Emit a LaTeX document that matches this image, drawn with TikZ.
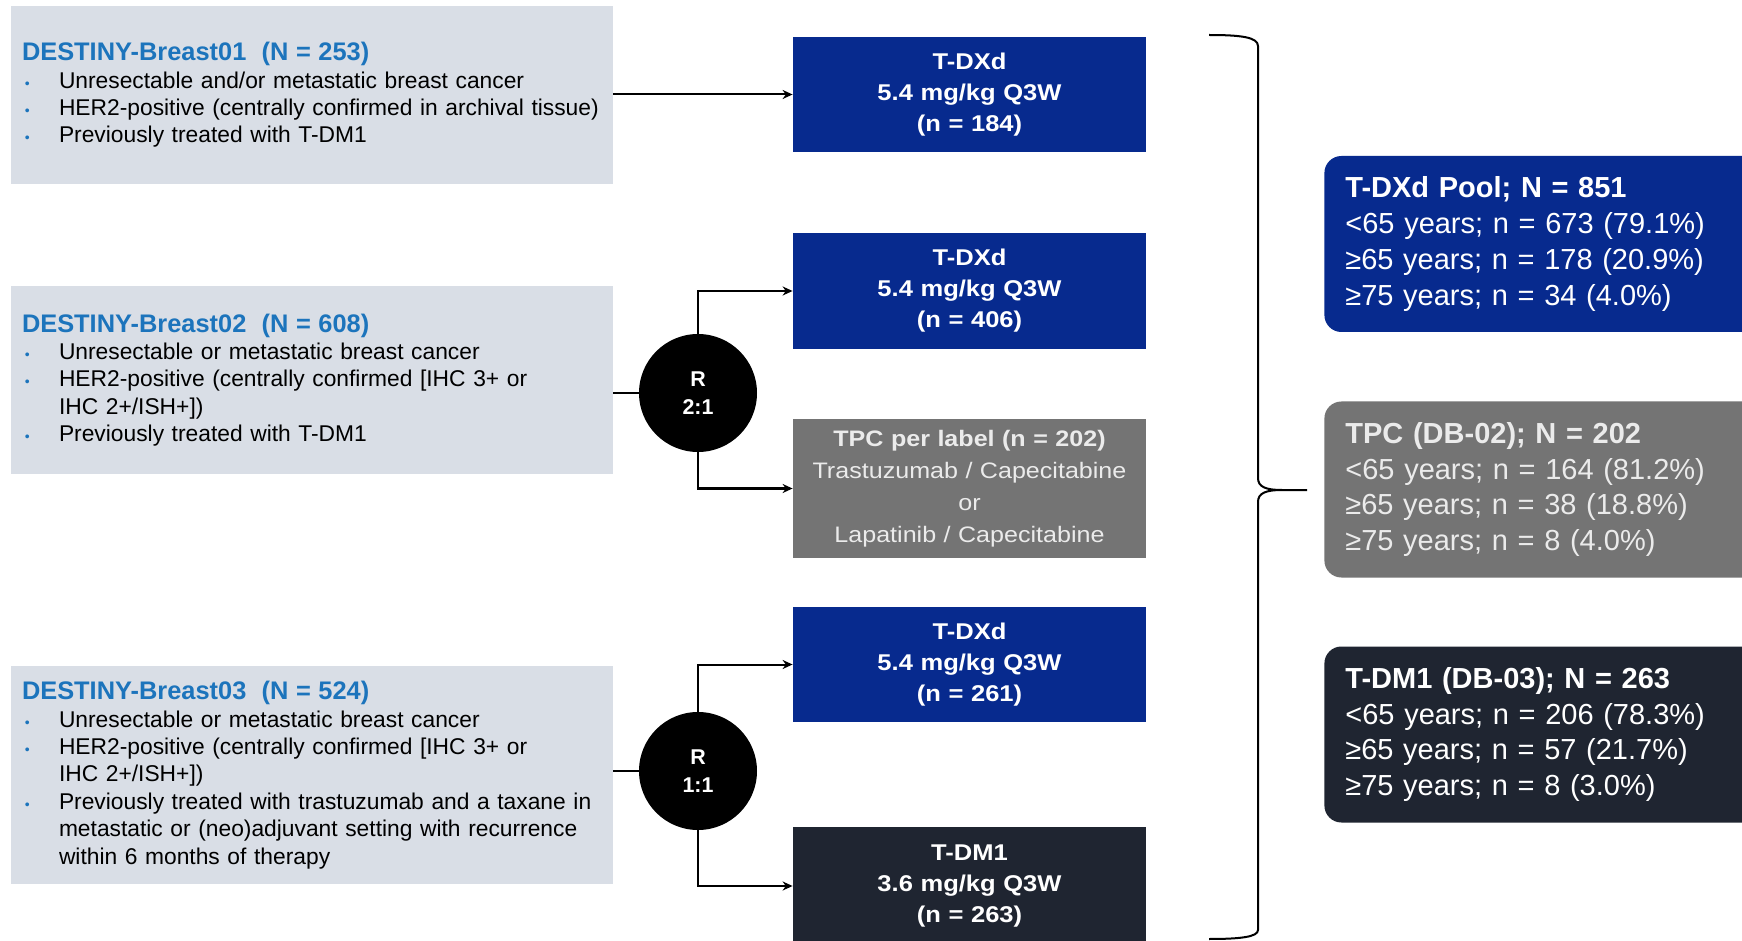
\documentclass[tikz,border=0pt]{standalone}
\usepackage{fontspec}
\setmainfont{Liberation Sans}
\newfontfamily\widesans[FakeStretch=1.12]{Liberation Sans}
\usepackage{xcolor}
\usetikzlibrary{arrows.meta,positioning,calc}

\definecolor{dsblue}{HTML}{072A8E}
\definecolor{dsgrey}{HTML}{747474}
\definecolor{dsdark}{HTML}{1F2531}
\definecolor{dslight}{HTML}{D9DEE6}
\definecolor{dstitle}{HTML}{1C74BC}

\newcommand{\crit}[1]{\hangindent=18.5pt\hangafter=1\noindent
  \makebox[18.5pt][l]{\hspace{1.5pt}\textcolor{dstitle}{\scriptsize\textbullet}}#1\par}
\newcommand{\nl}{\hfil\break}
\newcommand{\studyname}[1]{{\fontsize{12.7}{15}\selectfont\bfseries\color{dstitle}#1\par}}

\begin{document}
\begin{tikzpicture}[x=0.5pt,y=-0.5pt,
  studybox/.style={fill=dslight,minimum width=301pt,minimum height=89pt,
    text width=290pt,inner xsep=5.5pt,align=left,
    font=\fontsize{11.4}{13.7}\selectfont},
  armbox/.style={fill=#1,text=white,minimum width=176.5pt,text width=170pt,
    align=center,inner sep=0pt,font=\widesans\bfseries\fontsize{11.4}{15.5}\selectfont},
  poolbox/.style={fill=#1,text=white,rounded corners=8.5pt,anchor=west,
    minimum width=240pt,minimum height=88pt,text width=219pt,inner xsep=10.5pt,
    align=left,font=\fontsize{14.5}{17.9}\selectfont},
  randnode/.style={circle,fill=black,text=white,minimum size=59pt,inner sep=0pt,
    align=center,font=\bfseries\fontsize{10.7}{14}\selectfont},
  flow/.style={line width=1pt,-{Stealth[length=5pt,width=4.5pt]}},
  link/.style={line width=1pt}]
  \fill[white] (0,0) rectangle (1742,941);
  \useasboundingbox (0,0) rectangle (1742,941);

  % studies
  \node[studybox] (db1) at (312,95) {\studyname{DESTINY-Breast01\ \ (N = 253)}%
    \crit{Unresectable and/or metastatic breast cancer}%
    \crit{HER2-positive (centrally confirmed in archival tissue)}%
    \crit{Previously treated with T-DM1}};
  \node[studybox,minimum height=94pt] (db2) at (312,380) {\studyname{DESTINY-Breast02\ \ (N = 608)}%
    \crit{Unresectable or metastatic breast cancer}%
    \crit{HER2-positive (centrally confirmed [IHC 3+ or\nl IHC 2+/ISH+])}%
    \crit{Previously treated with T-DM1}};
  \node[studybox,minimum height=109pt] (db3) at (312,775) {\studyname{DESTINY-Breast03\ \ (N = 524)}%
    \crit{Unresectable or metastatic breast cancer}%
    \crit{HER2-positive (centrally confirmed [IHC 3+ or\nl IHC 2+/ISH+])}%
    \crit{Previously treated with trastuzumab and a taxane in\nl metastatic or (neo)adjuvant setting with recurrence\nl within 6 months of therapy}};

  % randomisation
  \node[randnode] (rand1) at (698,393) {R\\2:1};
  \node[randnode] (rand2) at (698,771) {R\\1:1};

  % treatment arms
  \node[armbox=dsblue,minimum height=57.5pt] (arm1) at (969.5,94.5)
    {T-DXd\\5.4 mg/kg Q3W\\(n = 184)};
  \node[armbox=dsblue,minimum height=58pt] (arm2) at (969.5,291)
    {T-DXd\\5.4 mg/kg Q3W\\(n = 406)};
  \node[armbox=dsgrey,minimum height=69.5pt,text=white!92!black,
    font=\widesans\fontsize{11.2}{16}\selectfont] (tpc) at (969.5,488.5)
    {\textbf{TPC per label (n = 202)}\\Trastuzumab / Capecitabine\\or\\Lapatinib / Capecitabine};
  \node[armbox=dsblue,minimum height=57.5pt] (arm3) at (969.5,664.5)
    {T-DXd\\5.4 mg/kg Q3W\\(n = 261)};
  \node[armbox=dsdark,minimum height=59pt] (arm4) at (969.5,886)
    {T-DM1\\3.6 mg/kg Q3W\\(n = 263)};

  \draw[flow] (db1.east |- arm1.west) -- (arm1.west);
  \draw[link] (db2.east |- rand1.west) -- (rand1.west);
  \draw[flow] (rand1.north) |- (arm2.west);
  \draw[flow] (rand1.south) |- (tpc.west);
  \draw[link] (db3.east |- rand2.west) -- (rand2.west);
  \draw[flow] (rand2.north) |- (arm3.west);
  \draw[flow] (rand2.south) |- (arm4.west);

  % brace
  \draw[line width=1pt] (1209,35) .. controls (1240,35) and (1258,37) .. (1258,46)
    -- (1258,478) .. controls (1258,487) and (1266,490) .. (1282,490) -- (1307,490)
    (1282,490) .. controls (1266,490) and (1258,493) .. (1258,502)
    -- (1258,930) .. controls (1258,937) and (1240,939) .. (1209,939);

  % pooled groups
  \node[poolbox=dsblue] (pool) at (1324,244) {\textbf{T-DXd Pool; N = 851}\\
    <65 years; n = 673 (79.1\%)\\≥65 years; n = 178 (20.9\%)\\≥75 years; n = 34 (4.0\%)};
  \node[poolbox=dsgrey,text=white!92!black] (tpcpool) at (1324,489.5) {\textbf{TPC (DB-02); N = 202}\\
    <65 years; n = 164 (81.2\%)\\≥65 years; n = 38 (18.8\%)\\≥75 years; n = 8 (4.0\%)};
  \node[poolbox=dsdark] (dmpool) at (1324,734.5) {\textbf{T-DM1 (DB-03); N = 263}\\
    <65 years; n = 206 (78.3\%)\\≥65 years; n = 57 (21.7\%)\\≥75 years; n = 8 (3.0\%)};
\end{tikzpicture}
\end{document}
